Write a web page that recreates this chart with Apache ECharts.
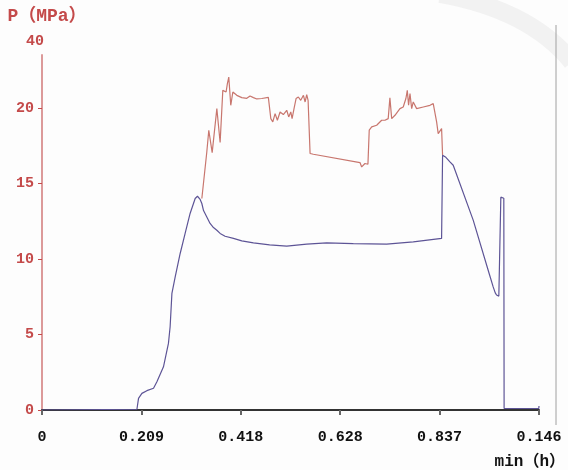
<!DOCTYPE html>
<html>
<head>
<meta charset="utf-8">
<script src="https://cdn.jsdelivr.net/npm/echarts@6/dist/echarts.min.js"></script>
<style>
  html, body { margin: 0; padding: 0; background: #fdfdfd; }
  #chart { width: 568px; height: 470px; }
</style>
</head>
<body>
<div id="chart"></div>
<script>
// x is measured in tick steps (0..5), labels come from xTickLabels
const xTickLabels = ['0', '0.209', '0.418', '0.628', '0.837', '0.146'];
const yTickValues = [0, 5, 10, 15, 20, 23.5];
const yTickLabels = ['0', '5', '10', '15', '20', '40'];

// lower curve (blue)
const blueX = [0, 0.955, 0.971, 1.005, 1.055, 1.122, 1.156, 1.222, 1.272, 1.289, 1.307, 1.340, 1.390, 1.440, 1.490, 1.541, 1.564, 1.591, 1.608, 1.625, 1.658, 1.691, 1.725, 1.759, 1.792, 1.842, 1.926, 2.010, 2.127, 2.290, 2.462, 2.663, 2.864, 3.132, 3.467, 3.735, 4.020, 4.030, 4.063, 4.104, 4.137, 4.338, 4.500, 4.539, 4.560, 4.573, 4.596, 4.611, 4.616, 4.636, 4.646, 4.649, 4.998, 5.0];
const blueY = [0, 0.05, 0.77, 1.10, 1.28, 1.44, 1.87, 2.86, 4.41, 5.51, 7.72, 8.82, 10.36, 11.69, 13.01, 14.00, 14.15, 13.94, 13.67, 13.20, 12.78, 12.35, 12.08, 11.90, 11.69, 11.50, 11.36, 11.20, 11.06, 10.93, 10.85, 10.98, 11.06, 11.02, 10.98, 11.13, 11.36, 16.87, 16.73, 16.42, 16.20, 12.57, 9.00, 8.15, 7.75, 7.61, 7.54, 7.61, 14.09, 14.15, 14.02, 0.10, 0.10, 0.26];

// upper curve (red)
const redX = [1.608, 1.658, 1.678, 1.712, 1.759, 1.792, 1.819, 1.835, 1.852, 1.865, 1.879, 1.899, 1.920, 1.960, 2.010, 2.060, 2.093, 2.127, 2.161, 2.211, 2.277, 2.294, 2.302, 2.322, 2.345, 2.368, 2.395, 2.428, 2.462, 2.482, 2.503, 2.516, 2.536, 2.556, 2.579, 2.603, 2.630, 2.647, 2.663, 2.677, 2.697, 2.730, 3.199, 3.216, 3.249, 3.279, 3.292, 3.317, 3.367, 3.417, 3.450, 3.483, 3.500, 3.518, 3.551, 3.601, 3.634, 3.661, 3.675, 3.688, 3.702, 3.719, 3.735, 3.769, 3.836, 3.903, 3.936, 3.953, 3.970, 3.986, 4.003, 4.020, 4.030];
const redY = [14.00, 17.08, 18.52, 17.04, 19.95, 17.71, 21.16, 21.28, 21.05, 21.61, 22.04, 20.17, 21.05, 20.83, 20.68, 20.63, 20.79, 20.68, 20.59, 20.62, 20.70, 20.62, 19.29, 19.07, 19.62, 19.18, 19.73, 19.56, 19.84, 19.40, 19.73, 19.29, 19.97, 20.62, 20.72, 20.50, 20.83, 20.39, 20.88, 20.50, 16.98, 16.93, 16.38, 16.09, 16.32, 16.27, 18.52, 18.74, 18.85, 19.18, 19.18, 19.29, 20.66, 19.29, 19.51, 19.95, 20.06, 20.62, 21.16, 20.17, 20.95, 19.95, 20.39, 19.95, 20.06, 20.17, 20.28, 20.17, 19.07, 18.30, 18.41, 18.63, 16.87];

const font = '"Liberation Mono", "Noto Sans CJK SC", monospace';
const red = '#c44a4a';

function pairs(xs, ys) {
  return xs.map((x, i) => [x, ys[i]]);
}

const myChart = echarts.init(document.getElementById('chart'));
const option = {
  animation: false,
  backgroundColor: '#fdfdfd',
  grid: { left: 42, right: 29, top: 55, bottom: 60 },
  xAxis: {
    type: 'value',
    min: 0,
    max: 5,
    interval: 1,
    name: 'min（h）',
    nameLocation: 'end',
    nameGap: 26,
    nameTextStyle: {
      color: '#111', fontFamily: font, fontWeight: 'bold', fontSize: 16,
      align: 'right', verticalAlign: 'top', padding: [44, 0, 0, 0]
    },
    axisLine: { lineStyle: { color: '#333', width: 2 } },
    axisTick: { length: 5, lineStyle: { color: '#666', width: 2 } },
    axisLabel: {
      color: '#111', fontFamily: font, fontWeight: 'bold', fontSize: 15, margin: 20,
      formatter: v => xTickLabels[Math.round(v)]
    },
    splitLine: { show: false }
  },
  yAxis: {
    type: 'value',
    min: 0,
    max: 23.5,
    interval: 5,
    name: 'P（MPa）',
    nameLocation: 'end',
    nameGap: 30,
    nameTextStyle: {
      color: red, fontFamily: font, fontWeight: 'bold', fontSize: 18, padding: [0, 0, 0, 10]
    },
    axisLine: { show: true, lineStyle: { color: '#dc9a9a', width: 2 } },
    axisTick: {
      show: true, length: 4, customValues: yTickValues.slice(0, 5),
      lineStyle: { color: red, width: 1 }
    },
    axisLabel: {
      margin: -2,
      customValues: yTickValues,
      formatter: v => {
        const i = yTickValues.indexOf(v);
        return i === yTickValues.length - 1 ? '{top|' + yTickLabels[i] + '}' : '{n|' + yTickLabels[i] + '}';
      },
      rich: {
        n: { color: red, fontFamily: font, fontWeight: 'bold', fontSize: 15, padding: [0, 10, 0, 0] },
        top: { color: red, fontFamily: font, fontWeight: 'bold', fontSize: 15, padding: [0, 0, 28, 0] }
      }
    },
    splitLine: { show: false }
  },
  graphic: [
    {
      type: 'bezierCurve',
      silent: true,
      shape: { x1: 440, y1: -6, x2: 572, y2: 62, cpx1: 530, cpy1: 10 },
      style: { stroke: '#f2f2f2', lineWidth: 18, fill: null }
    },
    {
      type: 'line',
      silent: true,
      shape: { x1: 556, y1: 25, x2: 556, y2: 425 },
      style: { stroke: '#a0a0a0', lineWidth: 1 }
    }
  ],
  series: [
    {
      type: 'line',
      showSymbol: false,
      data: pairs(redX, redY),
      lineStyle: { color: '#c8766e', width: 1.2 },
      z: 2
    },
    {
      type: 'line',
      showSymbol: false,
      data: pairs(blueX, blueY),
      lineStyle: { color: '#5d5496', width: 1.2 },
      z: 3
    }
  ]
};
myChart.setOption(option);
</script>
</body>
</html>
